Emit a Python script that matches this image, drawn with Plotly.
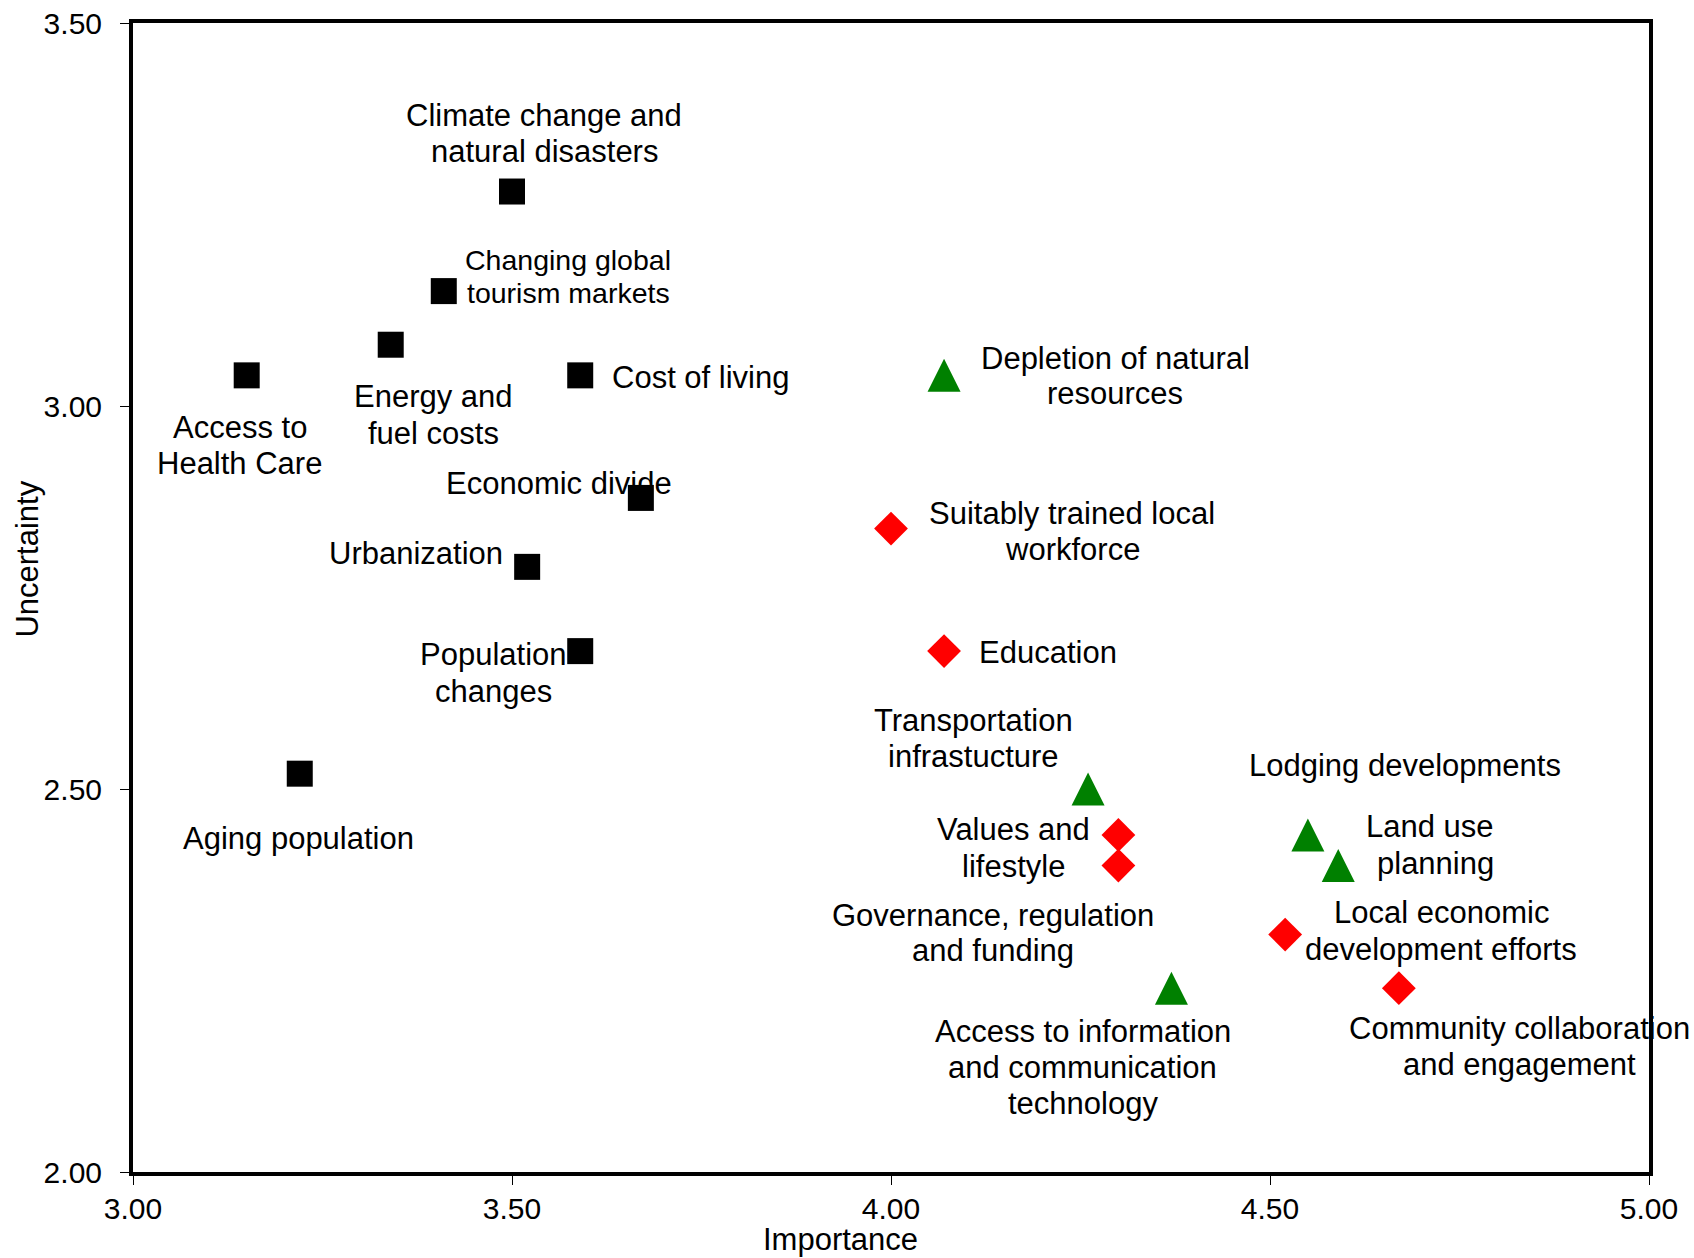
import plotly.graph_objects as go

FONT = "Liberation Sans, Arial, sans-serif"

# ---------------- data ----------------
black_labels = ["Climate change and<br>natural disasters", "Changing global<br>tourism markets",
                "Energy and<br>fuel costs", "Access to<br>Health Care", "Cost of living",
                "Economic divide", "Urbanization", "Population<br>changes", "Aging population"]
black_importance = [3.50, 3.41, 3.34, 3.15, 3.59, 3.67, 3.52, 3.59, 3.22]
black_uncertainty = [3.28, 3.15, 3.08, 3.04, 3.04, 2.88, 2.79, 2.68, 2.52]

green_labels = ["Depletion of natural<br>resources", "Transportation<br>infrastucture",
                "Lodging developments", "Land use<br>planning",
                "Access to information<br>and communication<br>technology"]
green_importance = [4.07, 4.26, 4.55, 4.59, 4.37]
green_uncertainty = [3.04, 2.50, 2.44, 2.40, 2.24]

red_labels = ["Suitably trained local<br>workforce", "Education", "Values and<br>lifestyle",
              "Governance, regulation<br>and funding", "Local economic<br>development efforts",
              "Community collaboration<br>and engagement"]
red_importance = [4.00, 4.07, 4.30, 4.30, 4.52, 4.67]
red_uncertainty = [2.84, 2.68, 2.44, 2.40, 2.31, 2.24]

x_ticks = [3.0, 3.5, 4.0, 4.5, 5.0]
x_tick_labels = ["3.00", "3.50", "4.00", "4.50", "5.00"]
y_ticks = [2.0, 2.5, 3.0, 3.5]
y_tick_labels = ["2.00", "2.50", "3.00", "3.50"]

# ---------------- label placement (pixel offsets from the marker) ----------------
S = 1.0806
LABEL_SIZE = 31
PLACEMENT = {
    "Climate change and<br>natural disasters": dict(dx=30, dys=[-70, -37]),
    "Changing global<br>tourism markets": dict(dx=115, dys=[-29, 2], size=28.5),
    "Energy and<br>fuel costs": dict(dx=39.5, dys=[48, 82]),
    "Access to<br>Health Care": dict(dx=-6.5, dys=[48, 82]),
    "Cost of living": dict(dx=111, dys=[2]),
    "Economic divide": dict(dx=-76, dys=[-13]),
    "Urbanization": dict(dx=-102.5, dys=[-12]),
    "Population<br>changes": dict(dx=-80, dys=[3, 37]),
    "Aging population": dict(dx=-1, dys=[60]),
    "Depletion of natural<br>resources": dict(dx=158.5, dys=[-16, 17]),
    "Transportation<br>infrastucture": dict(dx=-106, dys=[-63, -30]),
    "Lodging developments": dict(dx=89.5, dys=[-64]),
    "Land use<br>planning": dict(dx=146, dys=[-36, -2], anchor="right"),
    "Access to information<br>and communication<br>technology": dict(dx=-82, dys=[40, 73, 107]),
    "Suitably trained local<br>workforce": dict(dx=167.5, dys=[-14, 19]),
    "Education": dict(dx=96, dys=[1]),
    "Values and<br>lifestyle": dict(dx=-97, dys=[-5, 29]),
    "Governance, regulation<br>and funding": dict(dx=-116.5, dys=[46, 79]),
    "Local economic<br>development efforts": dict(dx=144.5, dys=[-20, 14]),
    "Community collaboration<br>and engagement": dict(dx=111.5, dys=[37, 71]),
}

annotations = []


def add_labels(labels, xs, ys):
    for lab, x, y in zip(labels, xs, ys):
        p = PLACEMENT[lab]
        anchor = p.get("anchor", "center")
        size = p.get("size", LABEL_SIZE)
        for line, dy in zip(lab.split("<br>"), p["dys"]):
            annotations.append(dict(
                x=x, y=y, xref="x", yref="y", text=line, showarrow=False,
                xanchor=anchor, yanchor="middle",
                xshift=p["dx"] * S, yshift=-dy * S,
                font=dict(size=size, family=FONT, color="black")))


add_labels(black_labels, black_importance, black_uncertainty)
add_labels(green_labels, green_importance, green_uncertainty)
add_labels(red_labels, red_importance, red_uncertainty)

# axis titles
annotations.append(dict(x=0.467, y=0, xref="paper", yref="paper", text="Importance",
                        showarrow=False, xanchor="center", yanchor="middle", yshift=-67,
                        font=dict(size=31, family=FONT, color="black")))
annotations.append(dict(x=0, y=0.533, xref="paper", yref="paper", text="Uncertainty",
                        showarrow=False, xanchor="center", yanchor="middle", xshift=-105,
                        textangle=-90, font=dict(size=31, family=FONT, color="black")))

fig = go.Figure()
fig.add_trace(go.Scatter(
    x=black_importance, y=black_uncertainty, mode="markers", name="black",
    marker=dict(symbol="square", size=26, color="black", line=dict(width=0)),
    hovertext=[l.replace("<br>", " ") for l in black_labels], hoverinfo="text+x+y"))
fig.add_trace(go.Scatter(
    x=green_importance, y=green_uncertainty, mode="markers", name="green",
    marker=dict(symbol="arrow-down", angle=180, standoff=16.5, size=33,
                color="#008000", line=dict(width=0)),
    hovertext=[l.replace("<br>", " ") for l in green_labels], hoverinfo="text+x+y"))
fig.add_trace(go.Scatter(
    x=red_importance, y=red_uncertainty, mode="markers", name="red",
    marker=dict(symbol="diamond", size=26, color="#FF0000", line=dict(width=0)),
    hovertext=[l.replace("<br>", " ") for l in red_labels], hoverinfo="text+x+y"))

axis_common = dict(
    showline=True, linewidth=4, linecolor="black", mirror=True,
    ticks="outside", ticklen=9, tickwidth=1, tickcolor="black",
    showgrid=False, zeroline=False, automargin=False,
    tickfont=dict(size=30, family=FONT, color="black"),
)

fig.update_layout(
    width=1694, height=1258,
    margin=dict(l=133, r=45, t=23, b=86, pad=0, autoexpand=False),
    paper_bgcolor="white", plot_bgcolor="white",
    showlegend=False,
    font=dict(family=FONT, color="black"),
    xaxis=dict(range=[3, 5], tickvals=x_ticks, ticktext=x_tick_labels,
               ticklabelstandoff=-2, **axis_common),
    yaxis=dict(range=[2, 3.5], tickvals=y_ticks, ticktext=y_tick_labels,
               ticklabelstandoff=12, **axis_common),
    annotations=annotations,
)

fig.write_html("out.html", config={"displayModeBar": False},
               post_script="document.body.style.margin='0';document.body.style.overflow='hidden';")
